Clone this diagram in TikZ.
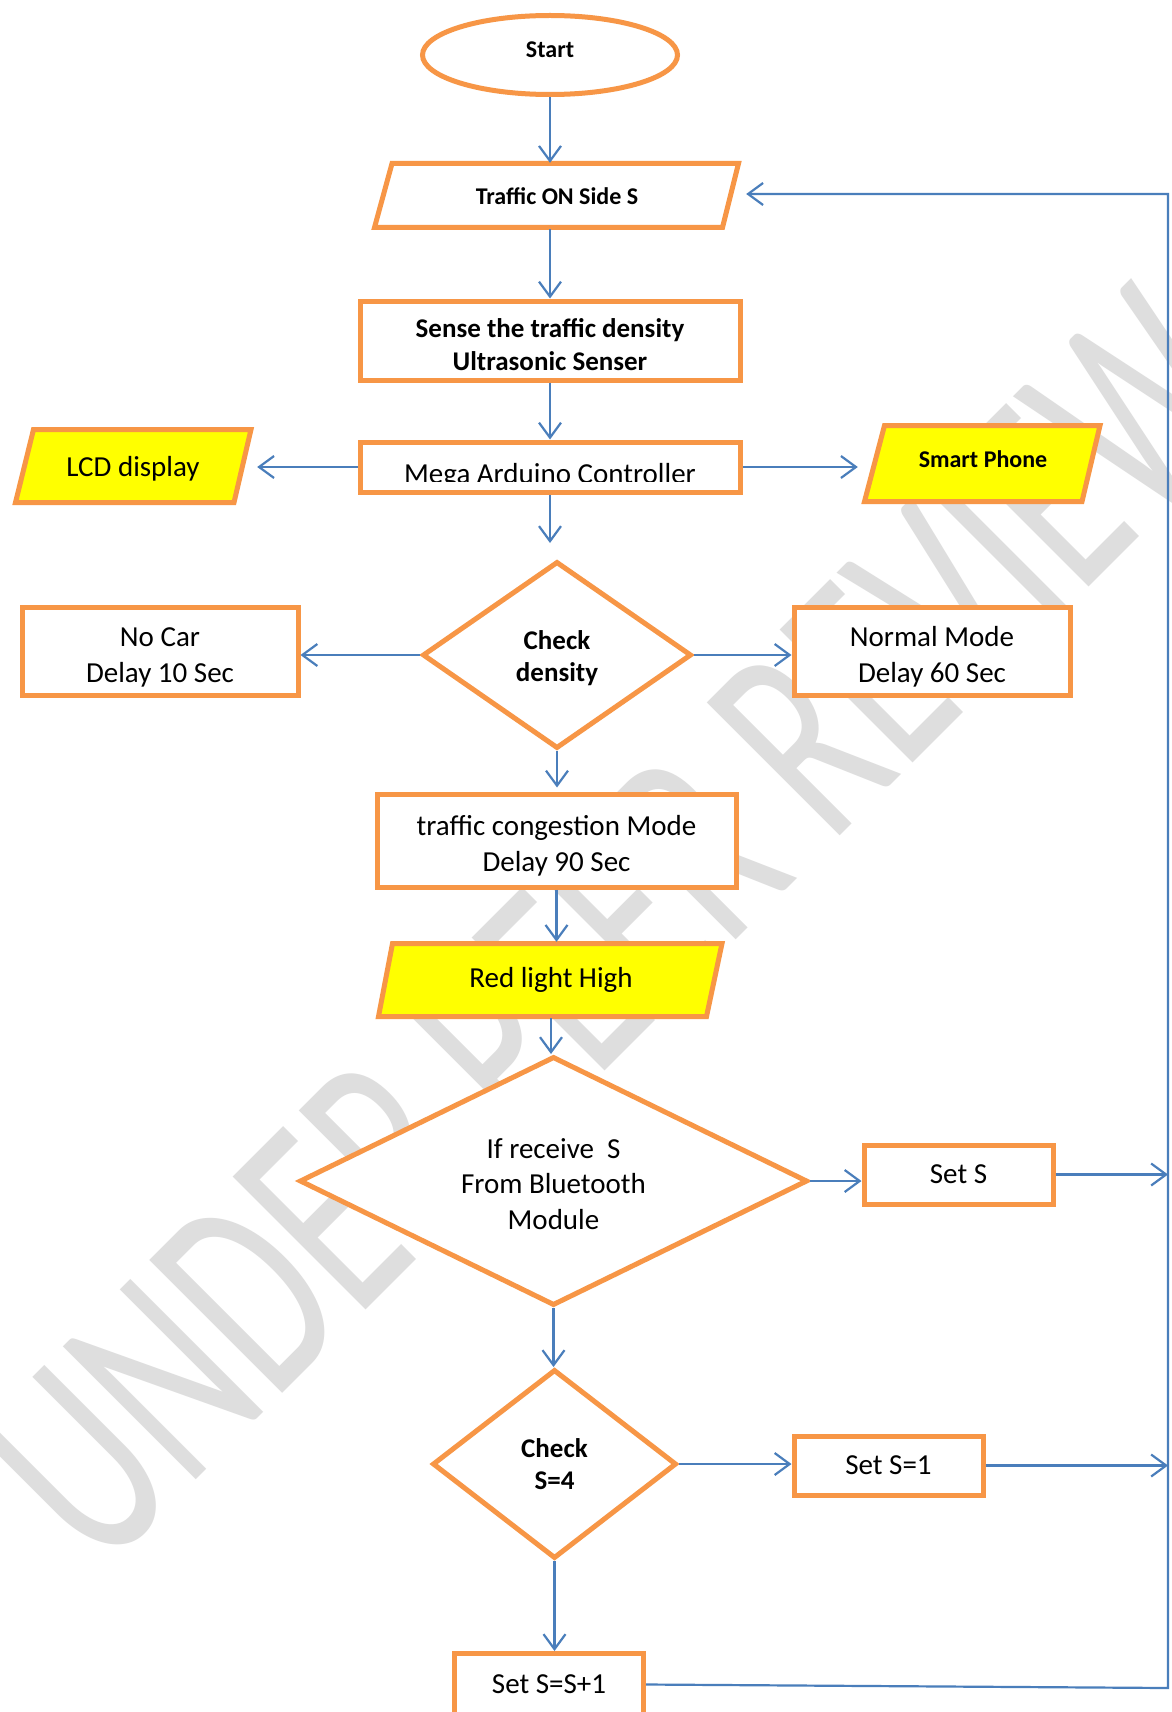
\documentclass[tikz,border=0pt]{standalone}
\usepackage{fontspec}
\setmainfont{Carlito}
\usetikzlibrary{shapes.geometric,arrows.meta}
\definecolor{orng}{HTML}{F79646}
\definecolor{blu}{HTML}{4A7EBB}
\definecolor{ylw}{HTML}{FFFF00}
\definecolor{wmgray}{HTML}{DEDEDE}
\newcommand{\tdn}[1]{\rule{0pt}{#1}}
\begin{document}
\begin{tikzpicture}[x=1pt,y=-1pt,
  shp/.style={draw=orng, line width=5pt, fill=white, inner sep=0pt, align=center},
  rbox/.style={shp, rectangle},
  dmd/.style={shp, diamond},
  reg/.style={font=\fontsize{29}{35.5}\selectfont},
  bld/.style={font=\bfseries\fontsize{24}{29}\selectfont},
  bldb/.style={font=\bfseries\fontsize{27}{32.5}\selectfont},
  conn/.style={draw=blu, line width=2.2pt, -{Straight Barb[length=15pt,width=22pt]}},
  pgram/.style={draw=orng, line width=5pt, line join=miter},
  ptext/.style={inner sep=0pt, align=center}
]
\useasboundingbox (0,0) rectangle (1171,1712);
\fill[white] (0,0) rectangle (1171,1712);

% watermark
\node[anchor=base west, inner sep=0pt, rotate=45, xscale=0.65, text=wmgray,
      font=\fontsize{293}{293}\selectfont] (wm) at (100,1576) {UNDER PEER REVIEW};

% shapes
\node[shp, ellipse, bld, text depth=11pt, minimum width=255pt, minimum height=79pt] (start) at (550,55) {Start};

\draw[pgram, fill=white] (392,163.5) -- (738.5,163.5) -- (722.5,227.5) -- (374.5,227.5) -- cycle;
\node[ptext, bld, minimum width=378pt, minimum height=66pt] (traffic) at (557,196) {Traffic ON Side S};

\node[rbox, bldb, minimum width=380pt, minimum height=79pt] (sense) at (550,340.5)
  {\tdn{27.5pt}Sense the traffic density\\Ultrasonic Senser};

\node[rbox, minimum width=380pt, minimum height=50pt] (mega) at (550,467) {};
\begin{scope}
  \clip (358,442) rectangle (742,481.5);
  \node[reg, anchor=base, inner sep=0pt] (megatext) at (550,483) {Mega Arduino Controller};
\end{scope}

\draw[pgram, fill=ylw] (33.5,429.5) -- (251,429.5) -- (234,502.5) -- (15.5,502.5) -- cycle;
\node[ptext, reg, minimum width=248pt, minimum height=74pt] (lcd) at (133,469) {LCD display};

\draw[pgram, fill=ylw] (884.5,425.5) -- (1100,425.5) -- (1082,501.5) -- (864.5,501.5) -- cycle;
\node[ptext, bld, minimum width=250pt, minimum height=74pt] (smart) at (983,459) {Smart Phone};

\node[dmd, bldb, minimum width=269pt, minimum height=187pt] (chk) at (557,655) {\tdn{25.5pt}Check\\density};

\node[rbox, reg, minimum width=276pt, minimum height=88pt] (nocar) at (160,651) {\tdn{31.5pt}No Car\\Delay 10 Sec};
\node[rbox, reg, minimum width=276pt, minimum height=88pt] (normal) at (932,651) {\tdn{31.5pt}Normal Mode\\Delay 60 Sec};

\node[rbox, reg, minimum width=359pt, minimum height=93pt] (cong) at (556.5,840.5)
  {\tdn{31pt}traffic congestion Mode\\Delay 90 Sec};

\draw[pgram, fill=ylw] (392.5,943.5) -- (722,943.5) -- (706.5,1016.5) -- (378.5,1016.5) -- cycle;
\node[ptext, reg, minimum width=335pt, minimum height=76pt] (red) at (551,980) {Red light High};

\node[dmd, reg, aspect=2, minimum width=508pt, minimum height=249pt] (ifr) at (553.5,1181)
  {\tdn{25.5pt}If receive\ \ S\\From Bluetooth\\Module};

\node[rbox, reg, minimum width=189pt, minimum height=59pt] (sets) at (958.5,1174.5) {Set S};

\node[dmd, bldb, minimum width=244pt, minimum height=189pt] (chk4) at (554.5,1464) {Check\\S=4};

\node[rbox, reg, minimum width=189pt, minimum height=59pt] (set1) at (888.5,1465.5) {Set S=1};

\node[rbox, reg, minimum width=189pt, minimum height=62pt] (setss) at (549,1684.5) {Set S=S+1};

% connectors
\coordinate (rj) at (1168,1176);
\coordinate (rb) at (1168,1688);
\coordinate (rt) at (1168,194);

\draw[conn] (start.south) -- (start.south |- traffic.north);
\draw[conn] (traffic.south -| sense.north) -- (sense.north);
\draw[conn] (sense.south) -- (mega.north);
\draw[conn] (mega.west) -- (mega.west -| lcd.east);
\draw[conn] (mega.east) -- (mega.east -| smart.west);
\draw[conn, shorten >=16pt] (mega.south) -- (mega.south |- chk.north);
\draw[conn] (chk.west) -- (chk.west -| nocar.east);
\draw[conn] (chk.east) -- (chk.east -| normal.west);
\draw[conn, shorten >=4pt] (chk.south) -- (chk.south |- cong.north);
\draw[conn] (cong.south) -- (cong.south |- red.north);
\draw[conn] (red.south) -- (red.south |- ifr.north);
\draw[conn] (ifr.east) -- (ifr.east -| sets.west);
\draw[conn, line width=3.5pt, -{Straight Barb[length=15pt,width=22pt,line width=2.2pt]}] (sets.east) -- (sets.east -| rj);
\draw[conn] (ifr.south) -- (ifr.south |- chk4.north);
\draw[conn] (chk4.east) -- (chk4.east -| set1.west);
\draw[conn] (set1.east) -- (set1.east -| rj);
\draw[conn] (chk4.south) -- (chk4.south |- setss.north);
\draw[conn] (setss.east) -- (rb) -- (rt) -- (rt -| traffic.east);
\end{tikzpicture}
\end{document}
